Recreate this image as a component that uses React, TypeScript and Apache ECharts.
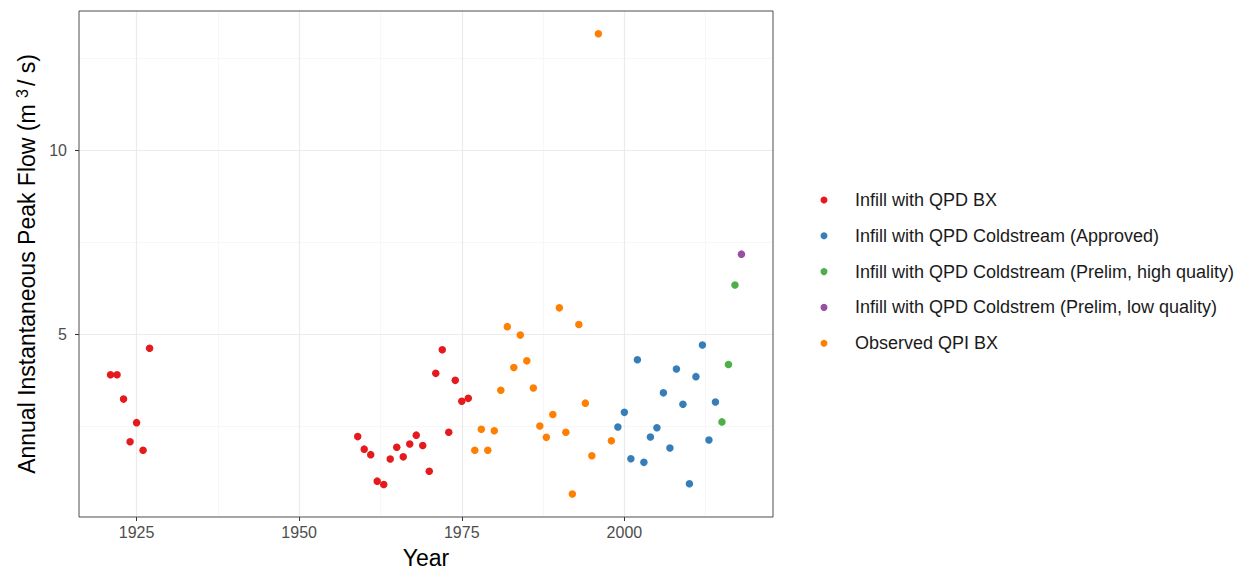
import React, { useEffect, useRef } from "react";
import * as echarts from "echarts";

const redYears = [1921, 1922, 1923, 1924, 1925, 1926, 1927, 1959, 1960, 1961, 1962, 1963, 1964, 1965, 1966, 1967, 1968, 1969, 1970, 1971, 1972, 1973, 1974, 1975, 1976];
const redFlows = [3.9, 3.9, 3.24, 2.08, 2.6, 1.85, 4.62, 2.22, 1.88, 1.73, 1.01, 0.92, 1.61, 1.93, 1.67, 2.02, 2.26, 1.98, 1.28, 3.94, 4.58, 2.34, 3.75, 3.18, 3.26];

const blueYears = [1999, 2000, 2001, 2002, 2003, 2004, 2005, 2006, 2007, 2008, 2009, 2010, 2011, 2012, 2013, 2014];
const blueFlows = [2.48, 2.88, 1.62, 4.31, 1.52, 2.21, 2.46, 3.41, 1.91, 4.06, 3.1, 0.94, 3.85, 4.71, 2.13, 3.16];

const greenYears = [2015, 2016, 2017];
const greenFlows = [2.62, 4.18, 6.34];

const purpleYears = [2018];
const purpleFlows = [7.18];

const orangeYears = [1977, 1978, 1979, 1980, 1981, 1982, 1983, 1984, 1985, 1986, 1987, 1988, 1989, 1990, 1991, 1992, 1993, 1994, 1995, 1996, 1998];
const orangeFlows = [1.85, 2.42, 1.85, 2.38, 3.48, 5.21, 4.1, 4.98, 4.28, 3.54, 2.51, 2.2, 2.82, 5.72, 2.34, 0.66, 5.27, 3.13, 1.7, 13.17, 2.11];

const seriesNames = [
  "Infill with QPD BX",
  "Infill with QPD Coldstream (Approved)",
  "Infill with QPD Coldstream (Prelim, high quality)",
  "Infill with QPD Coldstrem (Prelim, low quality)",
  "Observed QPI BX",
];
const seriesColors = ["#E41A1C", "#377EB8", "#4DAF4A", "#984EA3", "#FF7F00"];

const xTicks = [1925, 1950, 1975, 2000];
const xMinorTicks = [1937.5, 1962.5, 1987.5, 2012.5];
const yTicks = [5, 10];
const yMinorTicks = [2.5, 7.5, 12.5];

const FONT = "'Liberation Sans', Arial, sans-serif";

function pairs(xs: number[], ys: number[]) {
  return xs.map((x, i) => [x, ys[i]]);
}

export default function App() {
  const ref = useRef<HTMLDivElement>(null);
  useEffect(() => {
    if (!ref.current) return;
    const chart = echarts.init(ref.current, undefined, { renderer: "svg" });
    const groups = [
      pairs(redYears, redFlows),
      pairs(blueYears, blueFlows),
      pairs(greenYears, greenFlows),
      pairs(purpleYears, purpleFlows),
      pairs(orangeYears, orangeFlows),
    ];
    const minorStyle = { color: "#F3F3F3", width: 0.7, type: "solid" };
    const majorStyle = { color: "#EBEBEB", width: 1.2, type: "solid" };
    const gridData: any[] = [
      ...xMinorTicks.map((v) => ({ xAxis: v, lineStyle: minorStyle })),
      ...yMinorTicks.map((v) => ({ yAxis: v, lineStyle: minorStyle })),
      ...xTicks.map((v) => ({ xAxis: v, lineStyle: majorStyle })),
      ...yTicks.map((v) => ({ yAxis: v, lineStyle: majorStyle })),
    ];
    chart.setOption({
      animation: false,
      backgroundColor: "#FFFFFF",
      textStyle: { fontFamily: FONT },
      grid: {
        left: 79,
        top: 11,
        width: 694,
        height: 511,
        show: true,
        borderColor: "#4D4D4D",
        borderWidth: 1,
        backgroundColor: "transparent",
        z: 3,
      },
      xAxis: {
        type: "value",
        min: 1916.15,
        max: 2022.85,
        name: "Year",
        nameLocation: "middle",
        nameGap: 29,
        nameTextStyle: { fontSize: 23, color: "#000000", fontFamily: FONT },
        axisLine: { show: false },
        splitLine: { show: false },
        axisTick: { show: true, length: 4, lineStyle: { color: "#333333" }, customValues: xTicks },
        axisLabel: {
          show: true,
          fontSize: 16,
          color: "#4D4D4D",
          margin: 7,
          fontFamily: FONT,
          customValues: xTicks,
          formatter: (v: number) => String(v),
        },
      },
      yAxis: {
        type: "value",
        min: 0.035,
        max: 13.79,
        name: "Annual Instantaneous Peak Flow (m {sup|3}/ s)",
        nameLocation: "middle",
        nameGap: 38,
        nameTextStyle: {
          fontSize: 23,
          color: "#000000",
          fontFamily: FONT,
          rich: {
            sup: { fontSize: 16, color: "#000000", fontFamily: FONT, verticalAlign: "top", padding: [0, 3, 8, 0] },
          },
        },
        axisLine: { show: false },
        splitLine: { show: false },
        axisTick: { show: true, length: 4, lineStyle: { color: "#333333" }, customValues: yTicks },
        axisLabel: {
          show: true,
          fontSize: 16,
          color: "#4D4D4D",
          margin: 12,
          fontFamily: FONT,
          customValues: yTicks,
          formatter: (v: number) => String(v),
        },
      },
      legend: {
        orient: "vertical",
        left: 820.5,
        top: 191,
        padding: 0,
        data: seriesNames.map((n) => ({ name: n, icon: "circle" })),
        itemWidth: 7,
        itemHeight: 7,
        itemGap: 17.8,
        textStyle: { fontSize: 18, color: "#1A1A1A", fontFamily: FONT, lineHeight: 18, padding: [0, 0, 0, 22.5] },
        selectedMode: false,
      },
      series: [
        {
          type: "line",
          name: "grid",
          data: [],
          silent: true,
          z: 0,
          markLine: {
            silent: true,
            z: 1,
            symbol: ["none", "none"],
            label: { show: false },
            animation: false,
            data: gridData,
          },
        },
        ...groups.map((d, i) => ({
          type: "scatter",
          name: seriesNames[i],
          data: d,
          symbol: "circle",
          symbolSize: 7.5,
          itemStyle: { color: seriesColors[i], opacity: 1 },
          z: 4,
        })),
      ],
    });
    return () => chart.dispose();
  }, []);
  return (
    <div
      ref={ref}
      style={{ position: "fixed", left: 0, top: 0, width: 1239, height: 574 }}
    />
  );
}
